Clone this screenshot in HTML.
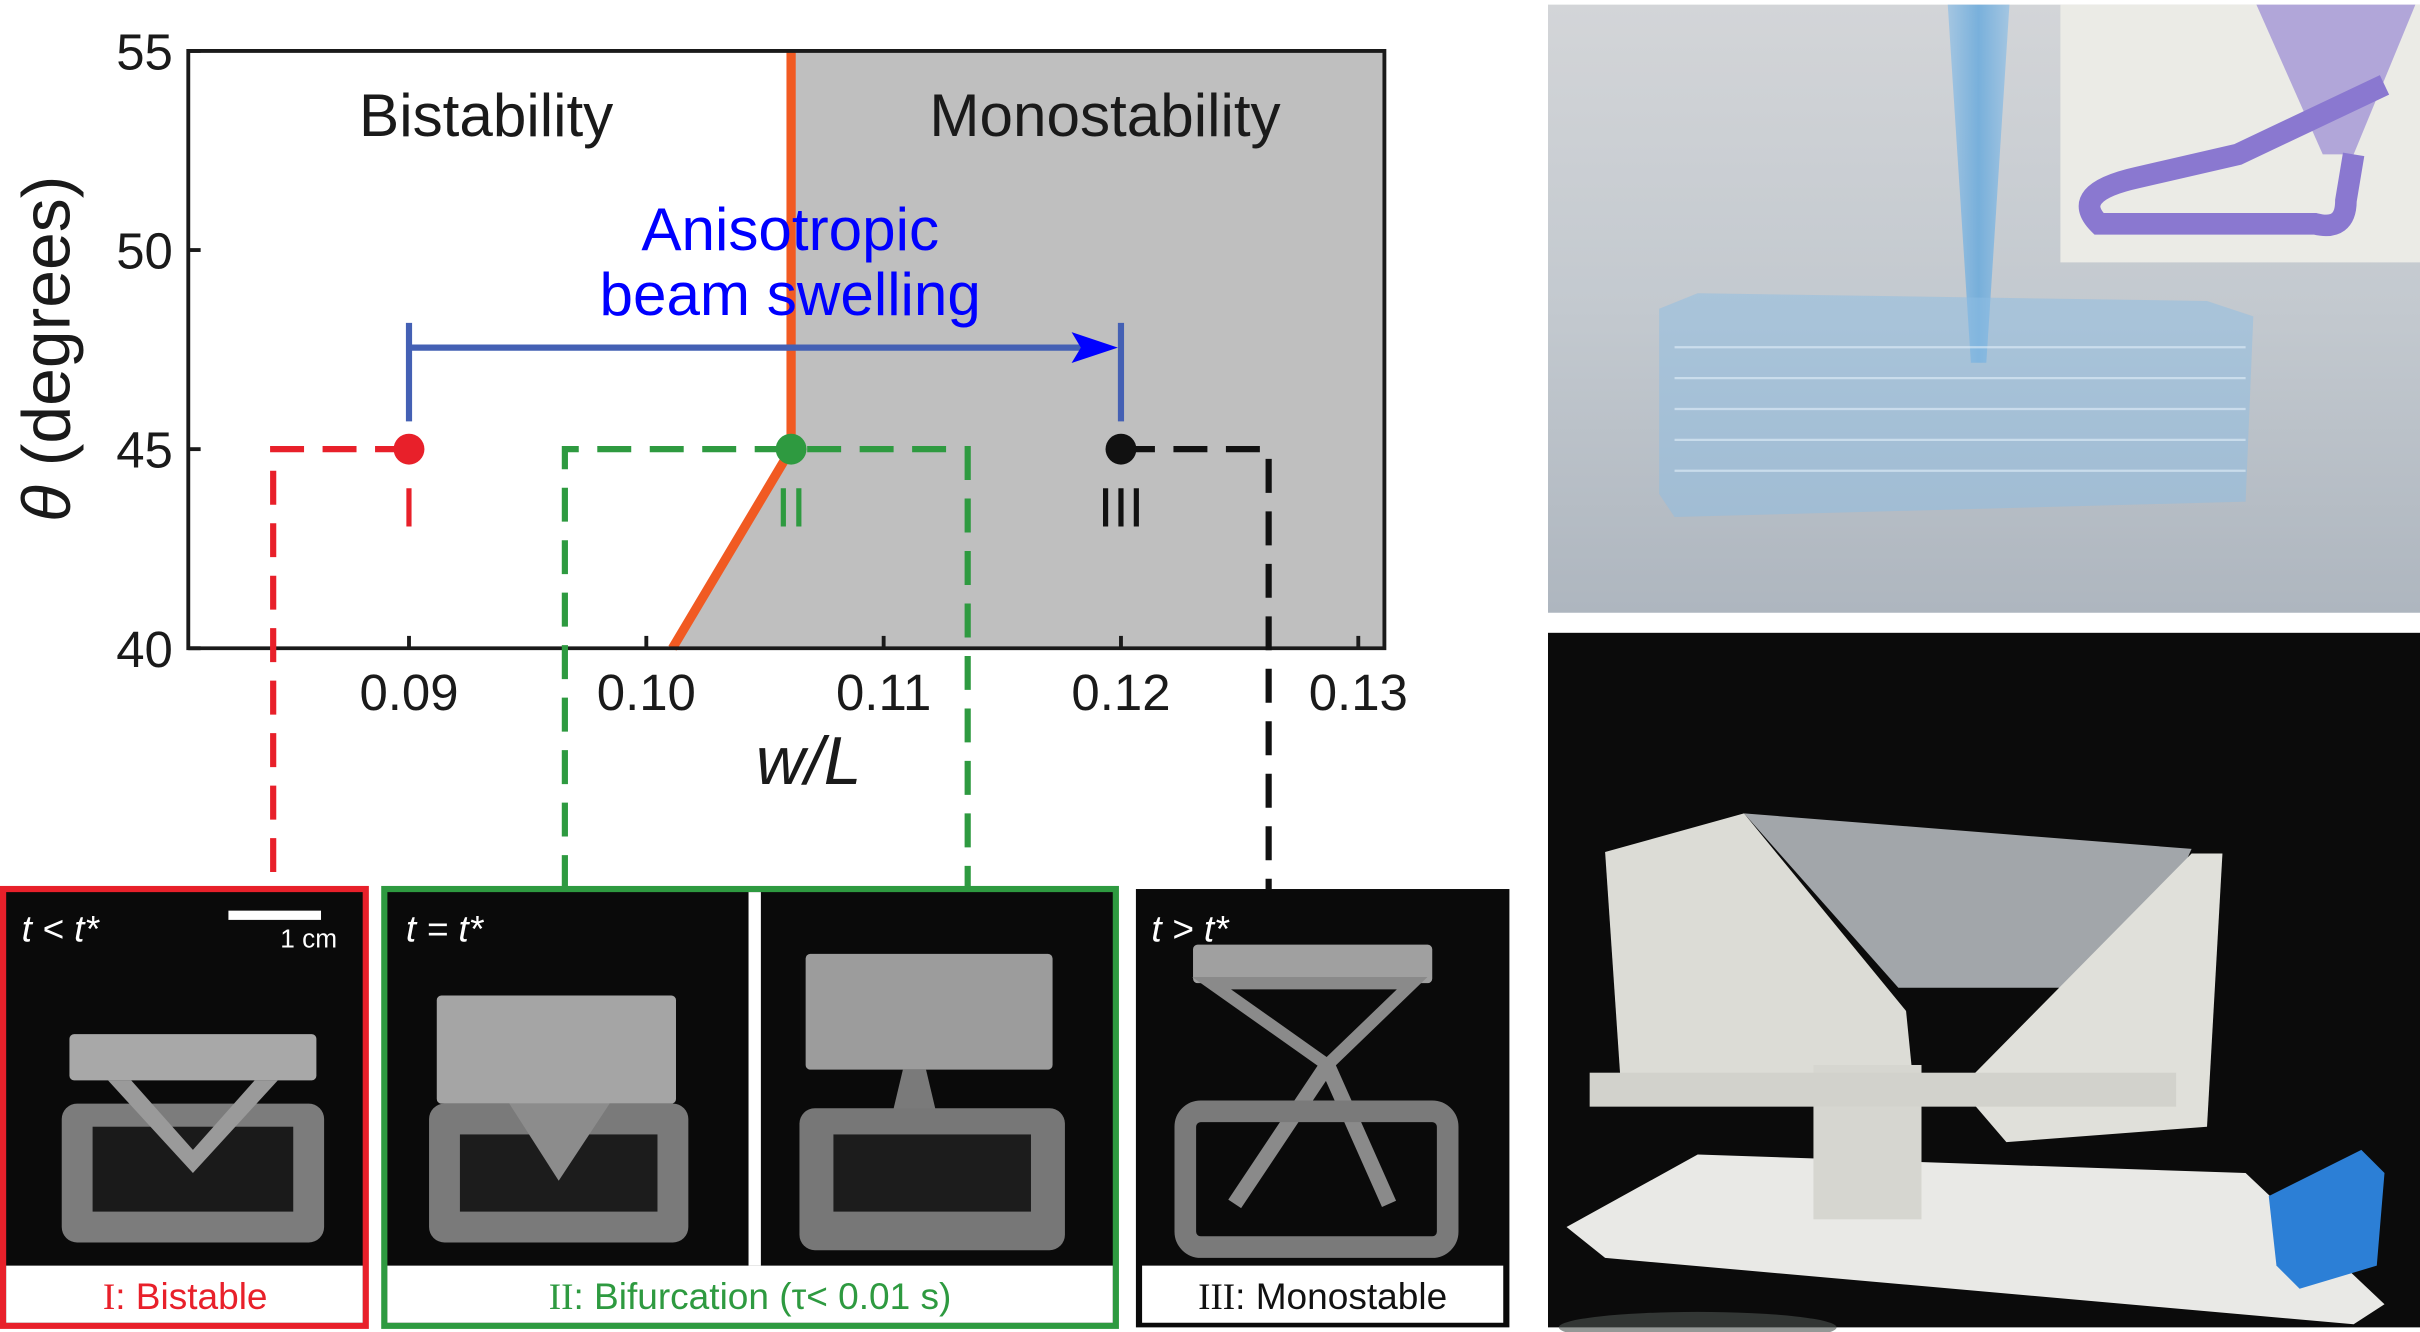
<!DOCTYPE html>
<html><head><meta charset="utf-8"><style>
html,body{margin:0;padding:0;background:#fff;}
svg{display:block;}
text{font-family:"Liberation Sans",sans-serif;}
</style></head><body>
<svg id="fig" width="2420" height="1332" viewBox="0 0 1568 863" preserveAspectRatio="none" xmlns="http://www.w3.org/2000/svg">
<defs>
<linearGradient id="topbg" x1="0" y1="0" x2="0" y2="1"><stop offset="0" stop-color="#d3d5d8"/><stop offset="0.5" stop-color="#c3c9cf"/><stop offset="1" stop-color="#aeb6bf"/></linearGradient>
<linearGradient id="nozzle" x1="0" y1="0" x2="1" y2="0"><stop offset="0" stop-color="#9cc3e3"/><stop offset="0.5" stop-color="#69aadc"/><stop offset="1" stop-color="#9cc3e3"/></linearGradient>
<linearGradient id="spec" x1="0" y1="0" x2="0" y2="1"><stop offset="0" stop-color="#9a9a9a"/><stop offset="1" stop-color="#6a6a6a"/></linearGradient>
</defs>

<g id="chart"></g>

<g>
  <rect x="2" y="576" width="235" height="283" fill="#0a0a0a" stroke="#e8202a" stroke-width="4"/>
  <rect x="4" y="820" width="231" height="37" fill="#fff"/>
  <text x="120" y="848" font-size="24" fill="#e8202a" text-anchor="middle"><tspan font-family="Liberation Serif">I</tspan>: Bistable</text>
  <text x="14" y="610" font-size="24" fill="#fff" font-style="italic">t &lt; t*</text>
  <rect x="148" y="590" width="60" height="6" fill="#fff"/>
  <text x="200" y="614" font-size="17" fill="#fff" text-anchor="middle">1 cm</text>
  <g>
    <rect x="45" y="670" width="160" height="30" rx="3" fill="#a8a8a8"/>
    <rect x="40" y="715" width="170" height="90" rx="10" fill="#7c7c7c"/>
    <rect x="60" y="730" width="130" height="55" fill="#1a1a1a"/>
    <path d="M70 700 L125 760 L180 700 L165 700 L125 745 L85 700Z" fill="#9a9a9a"/>
  </g>

  <rect x="249" y="576" width="474" height="283" fill="#0a0a0a" stroke="#2e9a40" stroke-width="4"/>
  <rect x="485" y="578" width="8" height="242" fill="#fff"/>
  <rect x="251" y="820" width="470" height="37" fill="#fff"/>
  <text x="486" y="848" font-size="24" fill="#2e9a40" text-anchor="middle"><tspan font-family="Liberation Serif">II</tspan>: Bifurcation (τ&lt; 0.01 s)</text>
  <text x="263" y="610" font-size="24" fill="#fff" font-style="italic">t = t*</text>
  <g>
    <rect x="283" y="645" width="155" height="70" rx="3" fill="#a5a5a5"/>
    <rect x="278" y="715" width="168" height="90" rx="10" fill="#7a7a7a"/>
    <rect x="298" y="735" width="128" height="50" fill="#1c1c1c"/>
    <path d="M330 715 L362 765 L395 715Z" fill="#8c8c8c"/>
  </g>
  <g>
    <rect x="522" y="618" width="160" height="75" rx="3" fill="#9c9c9c"/>
    <path d="M585 693 L600 693 L610 735 L575 735Z" fill="#7a7a7a"/>
    <rect x="518" y="718" width="172" height="92" rx="10" fill="#777"/>
    <rect x="540" y="735" width="128" height="50" fill="#1c1c1c"/>
  </g>

  <rect x="736" y="576" width="242" height="284" fill="#0a0a0a"/>
  <rect x="740" y="820" width="234" height="37" fill="#fff"/>
  <text x="857" y="848" font-size="24" fill="#111" text-anchor="middle"><tspan font-family="Liberation Serif">III</tspan>: Monostable</text>
  <text x="746" y="610" font-size="24" fill="#fff" font-style="italic">t &gt; t*</text>
  <g>
    <rect x="773" y="612" width="155" height="25" rx="3" fill="#a0a0a0"/>
    <path d="M785 637 L915 637 L860 690 Z" fill="none" stroke="#8a8a8a" stroke-width="8"/>
    <path d="M860 690 L800 780 M860 690 L900 780" stroke="#8a8a8a" stroke-width="10" fill="none"/>
    <rect x="768" y="720" width="170" height="88" rx="10" fill="none" stroke="#7a7a7a" stroke-width="14"/>
  </g>
</g>

<g>
  <rect x="1003" y="3" width="565" height="394" fill="url(#topbg)"/>
  <path d="M1262 3 L1302 3 L1287 235 L1277 235 Z" fill="url(#nozzle)" opacity="0.85"/>
  <path d="M1075 200 L1100 190 L1430 195 L1460 205 L1455 325 L1085 335 L1075 320 Z" fill="#8ebde3" opacity="0.5"/>
  <g stroke="#e3f0fa" stroke-width="1.5" opacity="0.6">
    <line x1="1085" y1="225" x2="1455" y2="225"/><line x1="1085" y1="245" x2="1455" y2="245"/>
    <line x1="1085" y1="265" x2="1455" y2="265"/><line x1="1085" y1="285" x2="1455" y2="285"/>
    <line x1="1085" y1="305" x2="1455" y2="305"/>
  </g>
  <rect x="1335" y="3" width="233" height="167" fill="#ebebe6"/>
  <path d="M1462 3 L1565 3 L1525 100 L1505 100 Z" fill="#a79ad6" opacity="0.85"/>
  <path d="M1545 55 L1450 100 L1385 115 Q1340 125 1360 145 L1500 145 Q1520 150 1520 130 L1525 100" fill="none" stroke="#8a78d0" stroke-width="14"/>
</g>

<g>
  <rect x="1003" y="410" width="565" height="450" fill="#0b0b0b"/>
  <path d="M1015 795 L1100 748 L1455 760 L1545 845 L1525 858 L1040 815 Z" fill="#e9e9e6"/>
  <path d="M1040 552 L1130 527 L1235 655 L1240 705 L1050 700 Z" fill="#dcdcd6"/>
  <path d="M1130 527 L1420 550 L1380 640 L1230 640 Z" fill="#c8cdd2" opacity="0.8"/>
  <path d="M1270 705 L1420 553 L1440 553 L1430 730 L1300 740 Z" fill="#e0e0da"/>
  <rect x="1175" y="690" width="70" height="100" fill="#d6d6d0"/>
  <rect x="1030" y="695" width="380" height="22" fill="#d2d2cc"/>
  <path d="M1470 775 L1530 745 L1545 760 L1540 820 L1490 835 L1475 820 Z" fill="#2c7fd6"/>
  <ellipse cx="1100" cy="860" rx="90" ry="10" fill="#4c5350" opacity="0.6"/>
</g>

<script>
const yTicks = [40, 45, 50, 55];
const xTicks = [0.09, 0.10, 0.11, 0.12, 0.13];
const xTickLabels = ["0.09", "0.10", "0.11", "0.12", "0.13"];
const boundaryX = [0.1011, 0.1061, 0.1061];
const boundaryY = [40, 45, 55];
const pointNames = ["I", "II", "III"];
const pointX = [0.09, 0.1061, 0.12];
const pointY = [45, 45, 45];
const pointColors = ["#e8202a", "#2e9a40", "#111111"];
const arrowStartX = [0.09];
const arrowEndX = [0.12];
const arrowY = [47.55];
const xMin = 0.0807, xMax = 0.1311, yMin = 40, yMax = 55;
const L = 122, R = 897, T = 33, B = 420;
function sx(v){ return L + (v - xMin) / (xMax - xMin) * (R - L); }
function sy(v){ return B - (v - yMin) / (yMax - yMin) * (B - T); }
const NS = "http://www.w3.org/2000/svg";
const g = document.getElementById("chart");
function mk(tag, attrs, parent){ const e = document.createElementNS(NS, tag); for (const k in attrs) e.setAttribute(k, attrs[k]); (parent||g).appendChild(e); return e; }

const poly = [[sx(boundaryX[0]), sy(boundaryY[0])]];
for (let i = 1; i < boundaryX.length; i++) poly.push([sx(boundaryX[i]), sy(boundaryY[i])]);
poly.push([R, T]); poly.push([R, B]);
let reg = mk("polygon", {points: poly.map(p => p.join(",")).join(" "), fill: "#bfbfbf"});


let bd = mk("polyline", {points: boundaryX.map((v,i) => sx(v) + "," + sy(boundaryY[i])).join(" "), fill: "none", stroke: "#f15a22", "stroke-width": 6});



let ax = mk("path", {d: `M${L} ${T} L${R} ${T} L${R} ${B} L${L} ${B} Z`, fill: "none", stroke: "#1a1a1a", "stroke-width": 2.5});


yTicks.forEach(v => {
  const t = mk("line", {x1: L, x2: L + 8, y1: sy(v), y2: sy(v), stroke: "#1a1a1a", "stroke-width": 2.5});
  
  
  const tx = mk("text", {x: L - 10, y: sy(v) + 12, "font-size": 33, "text-anchor": "end", fill: "#1a1a1a"});
  tx.textContent = String(v);
  
  
});
xTicks.forEach((v, i) => {
  const t = mk("line", {x1: sx(v), x2: sx(v), y1: B, y2: B - 8, stroke: "#1a1a1a", "stroke-width": 2.5});
  
  
  const tx = mk("text", {x: sx(v), y: B + 40, "font-size": 33, "text-anchor": "middle", fill: "#1a1a1a"});
  tx.textContent = xTickLabels[i];
  
  
});
let xl = mk("text", {x: 524, y: 508, "font-size": 44, "font-style": "italic", "text-anchor": "middle", fill: "#1a1a1a"});
xl.textContent = "w/L";


let yl = mk("text", {x: 0, y: 0, "font-size": 44, "text-anchor": "middle", fill: "#1a1a1a", transform: "translate(45,226) rotate(-90)"});


const ts1 = mk("tspan", {"font-style": "italic"}, yl); ts1.textContent = "θ";
const ts2 = mk("tspan", {}, yl); ts2.textContent = " (degrees)";

let t1 = mk("text", {x: 315, y: 88, "font-size": 39, "text-anchor": "middle", fill: "#1a1a1a"});
t1.textContent = "Bistability";


let t2 = mk("text", {x: 716, y: 88, "font-size": 39, "text-anchor": "middle", fill: "#1a1a1a"});
t2.textContent = "Monostability";


let t3 = mk("text", {x: 512, y: 162, "font-size": 39, "text-anchor": "middle", fill: "#0000ff"});
t3.textContent = "Anisotropic";


let t4 = mk("text", {x: 512, y: 204, "font-size": 39, "text-anchor": "middle", fill: "#0000ff"});
t4.textContent = "beam swelling";



const ay = sy(arrowY[0]), ax0 = sx(arrowStartX[0]), ax1 = sx(arrowEndX[0]);
let ar = mk("path", {d: `M${ax0} ${ay} L${ax1 - 20} ${ay} M${ax0} ${ay - 16} L${ax0} ${sy(45) - 18} M${ax1} ${ay - 16} L${ax1} ${sy(45) - 18}`, stroke: "#4460b4", "stroke-width": 4, fill: "none"});


let ah = mk("polygon", {points: `${ax1 - 2},${ay} ${ax1 - 32},${ay - 10} ${ax1 - 26},${ay} ${ax1 - 32},${ay + 10}`, fill: "#0000ff"});



const dashLeft = [177, 366, 731];
const dashRight = [265, 627, 822];
for (let i = 0; i < 3; i++) {
  const py = sy(pointY[i]);
  let d;
  if (i === 1) d = `M${dashLeft[i]} 576 L${dashLeft[i]} ${py} L${dashRight[i]} ${py} L${dashRight[i]} 576`;
  else if (i === 0) d = `M${sx(pointX[0])} ${py} L${dashLeft[0]} ${py} L${dashLeft[0]} 576`;
  else d = `M${sx(pointX[2])} ${py} L${dashRight[2]} ${py} L${dashRight[2]} 576`;
  const p = mk("path", {d, fill: "none", stroke: pointColors[i], "stroke-width": 4, "stroke-dasharray": "22 12"});
  
  
}
for (let i = 0; i < pointX.length; i++) {
  const c = mk("circle", {cx: sx(pointX[i]), cy: sy(pointY[i]), r: 10, fill: pointColors[i]});
  
  
  const l = mk("text", {x: sx(pointX[i]), y: sy(pointY[i]) + 50, "font-size": 36, "text-anchor": "middle", fill: pointColors[i], "font-family": "Liberation Serif, serif"});
  l.textContent = pointNames[i];
  
  
}
</script>
</svg>
</body></html>
